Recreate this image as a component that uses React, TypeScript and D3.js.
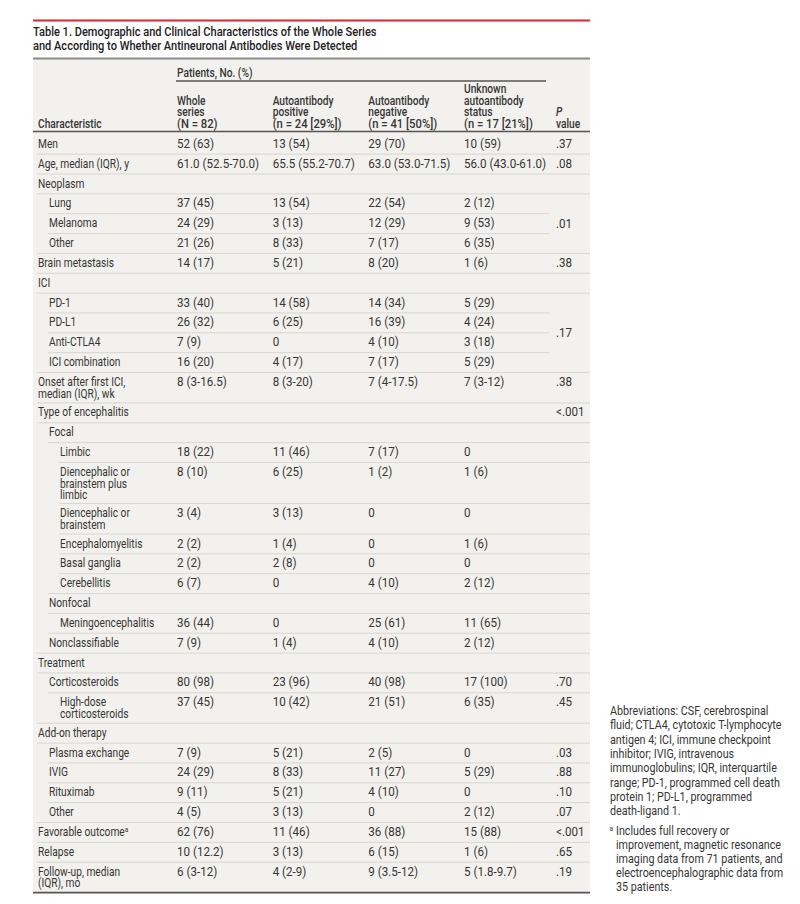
import React from "react";
import * as d3 from "d3";

const labels = [
  "Men", "Age, median (IQR), y", "Neoplasm", "Lung", "Melanoma", "Other", "Brain metastasis", "ICI",
  "PD-1", "PD-L1", "Anti-CTLA4", "ICI combination", "Onset after first ICI,\nmedian (IQR), wk",
  "Type of encephalitis", "Focal", "Limbic", "Diencephalic or\nbrainstem plus\nlimbic", "Diencephalic or\nbrainstem",
  "Encephalomyelitis", "Basal ganglia", "Cerebellitis", "Nonfocal", "Meningoencephalitis", "Nonclassifiable",
  "Treatment", "Corticosteroids", "High-dose\ncorticosteroids", "Add-on therapy", "Plasma exchange", "IVIG",
  "Rituximab", "Other", "Favorable outcome", "Relapse", "Follow-up, median\n(IQR), mo",
];
const levels = [0, 0, 0, 1, 1, 1, 0, 0, 1, 1, 1, 1, 0, 0, 1, 2, 2, 2, 2, 2, 2, 1, 2, 1, 0, 1, 2, 0, 1, 1, 1, 1, 0, 0, 0];
const footnoteMark = [32];

const wholeSeries = ["52 (63)", "61.0 (52.5-70.0)", "", "37 (45)", "24 (29)", "21 (26)", "14 (17)", "", "33 (40)", "26 (32)", "7 (9)", "16 (20)", "8 (3-16.5)", "", "", "18 (22)", "8 (10)", "3 (4)", "2 (2)", "2 (2)", "6 (7)", "", "36 (44)", "7 (9)", "", "80 (98)", "37 (45)", "", "7 (9)", "24 (29)", "9 (11)", "4 (5)", "62 (76)", "10 (12.2)", "6 (3-12)"];
const positive = ["13 (54)", "65.5 (55.2-70.7)", "", "13 (54)", "3 (13)", "8 (33)", "5 (21)", "", "14 (58)", "6 (25)", "0", "4 (17)", "8 (3-20)", "", "", "11 (46)", "6 (25)", "3 (13)", "1 (4)", "2 (8)", "0", "", "0", "1 (4)", "", "23 (96)", "10 (42)", "", "5 (21)", "8 (33)", "5 (21)", "3 (13)", "11 (46)", "3 (13)", "4 (2-9)"];
const negative = ["29 (70)", "63.0 (53.0-71.5)", "", "22 (54)", "12 (29)", "7 (17)", "8 (20)", "", "14 (34)", "16 (39)", "4 (10)", "7 (17)", "7 (4-17.5)", "", "", "7 (17)", "1 (2)", "0", "0", "0", "4 (10)", "", "25 (61)", "4 (10)", "", "40 (98)", "21 (51)", "", "2 (5)", "11 (27)", "4 (10)", "0", "36 (88)", "6 (15)", "9 (3.5-12)"];
const unknown = ["10 (59)", "56.0 (43.0-61.0)", "", "2 (12)", "9 (53)", "6 (35)", "1 (6)", "", "5 (29)", "4 (24)", "3 (18)", "5 (29)", "7 (3-12)", "", "", "0", "1 (6)", "0", "1 (6)", "0", "2 (12)", "", "11 (65)", "2 (12)", "", "17 (100)", "6 (35)", "", "0", "5 (29)", "0", "2 (12)", "15 (88)", "1 (6)", "5 (1.8-9.7)"];
const pValues = [".37", ".08", "", ".01", "", "", ".38", "", ".17", "", "", "", ".38", "<.001", "", "", "", "", "", "", "", "", "", "", "", ".70", ".45", "", ".03", ".88", ".10", ".07", "<.001", ".65", ".19"];
const pSpans = [1, 1, 1, 3, 0, 0, 1, 1, 4, 0, 0, 0, 1, 1, 1, 1, 1, 1, 1, 1, 1, 1, 1, 1, 1, 1, 1, 1, 1, 1, 1, 1, 1, 1, 1];

const colKeys = ["whole", "pos", "neg", "unk"];
const colHeaders = [
  ["Whole", "series", "(N = 82)"],
  ["Autoantibody", "positive", "(n = 24 [29%])"],
  ["Autoantibody", "negative", "(n = 41 [50%])"],
  ["Unknown", "autoantibody", "status", "(n = 17 [21%])"],
];
const titleLines = [
  "Table 1. Demographic and Clinical Characteristics of the Whole Series",
  "and According to Whether Antineuronal Antibodies Were Detected",
];
const abbreviationLines = [
  "Abbreviations: CSF, cerebrospinal",
  "fluid; CTLA4, cytotoxic T-lymphocyte",
  "antigen 4; ICI, immune checkpoint",
  "inhibitor; IVIG, intravenous",
  "immunoglobulins; IQR, interquartile",
  "range; PD-1, programmed cell death",
  "protein 1; PD-L1, programmed",
  "death-ligand 1.",
];
const footnoteLines = [
  "Includes full recovery or",
  "improvement, magnetic resonance",
  "imaging data from 71 patients, and",
  "electroencephalographic data from",
  "35 patients.",
];

const FONT = 'Roboto, "Liberation Sans", sans-serif';
const BODY = 12.5;
const SX_WORD = 0.816;
const SX_NUM = 0.93;
const BG = "#f2f1ed";
const TEXT = "#363636";
const SEP = "#d9d7d1";

function T(props: { x: number; y: number; size?: number; sx?: number; weight?: number; italic?: boolean; fill?: string; children: React.ReactNode }) {
  const { x, y, size = BODY, sx = SX_WORD, weight = 400, italic = false, fill = TEXT, children } = props;
  return (
    <text
      transform={`translate(${x},${y}) scale(${sx},1)`}
      fontSize={size}
      fontWeight={weight}
      fontStyle={italic ? "italic" : "normal"}
      fill={fill}
    >
      {children}
    </text>
  );
}

const isNumeric = (s: string) => /\d/.test(s) && !/[a-zA-Z]{2,}/.test(s);

export default function App() {
  const left = 33;
  const right = 590;
  const top0 = 134.3;
  const rowH = 19.85;
  const extraLine = 10.6;
  const lineStep = 11.7;
  const headStep = 11.6;
  const headSize = 12;
  const headScale = BODY / headSize;

  const nLines = labels.map((l) => l.split("\n").length);
  const heights = nLines.map((n) => rowH + (n - 1) * extraLine);
  const bottoms = Array.from(d3.cumsum(heights)).map((v) => top0 + v);
  const tops = bottoms.map((b, i) => b - heights[i]);

  const x = d3.scalePoint<string>().domain(colKeys).range([177, 464]);
  const pX = 556;
  const indent = d3.scaleLinear().domain([0, 1]).range([38, 49]);
  const pGroupRight = 549;

  const columns = [wholeSeries, positive, negative, unknown];

  const groupId: number[] = labels.map(() => -1);
  pSpans.forEach((s, i) => {
    if (s > 1) for (let k = i; k < i + s; k++) groupId[k] = i;
  });

  const separators = [];
  for (let i = 0; i < labels.length - 1; i++) {
    const lv = Math.min(levels[i], levels[i + 1]);
    const x1 = indent(lv) - 1;
    const inGroup = groupId[i] >= 0 && groupId[i] === groupId[i + 1];
    separators.push({ y: bottoms[i], x1, x2: inGroup ? pGroupRight : right });
  }
  const tableBottom = bottoms[bottoms.length - 1];

  return (
    <svg width={800} height={904} style={{ position: "absolute", left: 0, top: 0, background: "#fff" }} fontFamily={FONT}>
      <rect x={left} y={59} width={right - left} height={tableBottom - 59} fill={BG} />
      <line x1={left} x2={right} y1={20.5} y2={20.5} stroke="#e2232a" strokeWidth={2.2} />
      {titleLines.map((t, i) => (
        <T key={i} x={left} y={35.5 + i * 14} size={13} sx={0.85} weight={500} fill="#222">{t}</T>
      ))}
      <line x1={left} x2={right} y1={58.5} y2={58.5} stroke="#8a8a8a" strokeWidth={2} />

      <T x={x("whole")!} y={77} weight={500}>Patients, No. (%)</T>
      <line x1={x("whole")! - 1} x2={pGroupRight - 3} y1={81} y2={81} stroke="#555" strokeWidth={1.3} />
      {colHeaders.map((lines, ci) => {
        const n = lines.length;
        return lines.map((l, li) => (
          <T
            key={ci + "-" + li}
            x={x(colKeys[ci])!}
            y={128 - (n - 1 - li) * headStep}
            size={headSize}
            weight={500}
            sx={(isNumeric(l) ? SX_NUM * 0.97 : SX_WORD) * headScale}
          >
            {l}
          </T>
        ));
      })}
      <T x={indent(0)} y={128} weight={500}>Characteristic</T>
      <T x={pX} y={128 - headStep} size={headSize} sx={SX_WORD * headScale} weight={500} italic>P</T>
      <T x={pX} y={128} size={headSize} sx={SX_WORD * headScale} weight={500}>value</T>
      <line x1={left} x2={right} y1={131.5} y2={131.5} stroke="#555" strokeWidth={1.6} />

      {separators.map((s, i) => (
        <line key={i} x1={s.x1} x2={s.x2} y1={s.y} y2={s.y} stroke={SEP} strokeWidth={1} />
      ))}

      {labels.map((lab, i) => (
        <g key={i}>
          <T x={indent(levels[i])} y={tops[i] + 13.5}>
            {lab.split("\n").map((l, li) => (
              <tspan key={li} x={0} dy={li === 0 ? 0 : lineStep}>{l}</tspan>
            ))}
            {footnoteMark.includes(i) ? <tspan fontSize={8} dy={-4.5}>a</tspan> : null}
          </T>
          {columns.map((col, ci) =>
            col[i] ? (
              <T key={ci} x={x(colKeys[ci])!} y={tops[i] + 13.5} sx={SX_NUM}>{col[i]}</T>
            ) : null
          )}
          {pValues[i] ? (
            <T
              x={pX}
              sx={SX_NUM}
              y={pSpans[i] > 1 ? (tops[i] + bottoms[i + pSpans[i] - 1]) / 2 + 4.3 : tops[i] + 13.5}
            >
              {pValues[i]}
            </T>
          ) : null}
        </g>
      ))}
      <line x1={left} x2={right} y1={tableBottom} y2={tableBottom} stroke="#555" strokeWidth={1.8} />

      {abbreviationLines.map((l, i) => (
        <T key={i} x={610} y={715 + i * 14.35} sx={0.86}>{l}</T>
      ))}
      <T x={609.5} y={831} size={8}>a</T>
      {footnoteLines.map((l, i) => (
        <T key={i} x={616} y={834.5 + i * 14.2} sx={0.86}>{l}</T>
      ))}
    </svg>
  );
}
